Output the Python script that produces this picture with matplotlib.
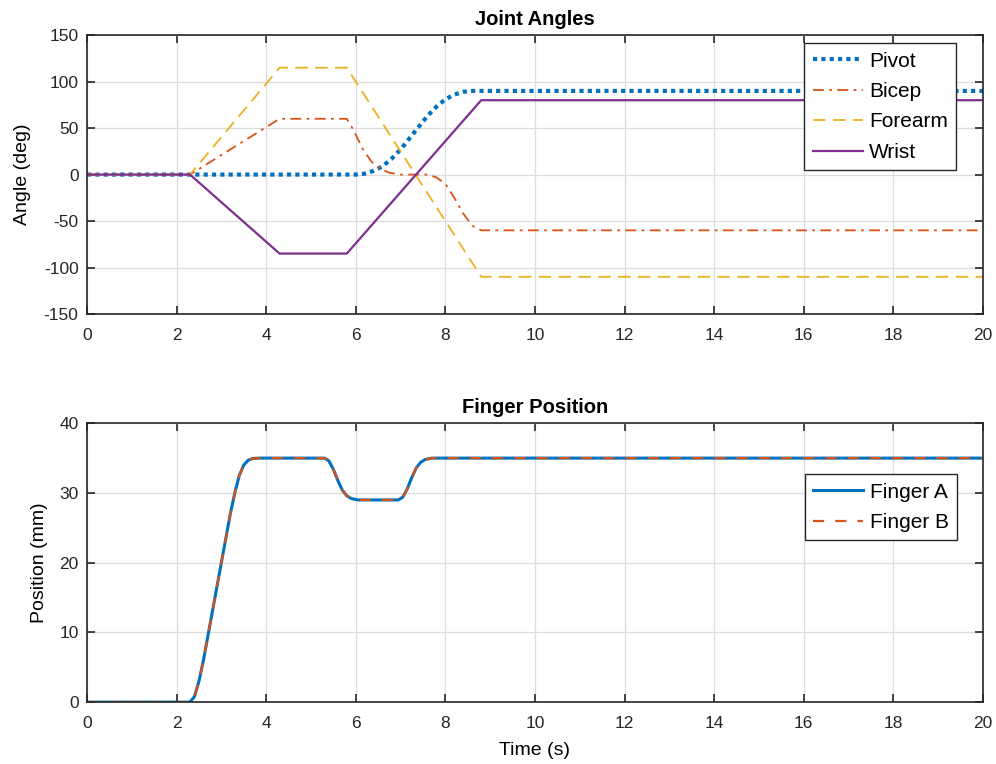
import matplotlib.pyplot as plt

# Joint angle traces (time in s, angle in deg)
t_pivot = [0, 6.0, 6.2, 6.4, 6.6, 6.8, 7.0, 7.2, 7.4, 7.6, 7.8, 8.0, 8.2, 8.4, 8.6, 20]
pivot = [0, 0, 1, 4, 9, 17, 27, 39, 51, 63, 73, 81, 86, 89, 90, 90]

t_bicep = [0, 2.3, 4.3, 5.8, 5.95, 6.15, 6.35, 6.55, 6.75, 7.0, 7.6, 7.8, 8.0, 8.2, 8.4, 8.6, 8.8, 20]
bicep = [0, 0, 60, 60, 48, 28, 14, 6, 2, 0, 0, -3, -10, -25, -42, -55, -60, -60]

t_forearm = [0, 2.3, 4.3, 5.8, 8.8, 20]
forearm = [0, 0, 115, 115, -110, -110]

t_wrist = [0, 2.3, 4.3, 5.8, 8.8, 20]
wrist = [0, 0, -85, -85, 80, 80]

# Finger positions (mm)
t_finger = [0, 2.3, 2.4, 2.5, 2.6, 2.7, 2.8, 2.9, 3.0, 3.1, 3.2, 3.3, 3.4, 3.5,
            3.6, 3.7, 3.85, 5.3, 5.4, 5.5, 5.6, 5.7, 5.8, 5.9, 6.05, 6.95, 7.05,
            7.15, 7.25, 7.35, 7.45, 7.55, 7.7, 20]
finger_a = [0, 0, 0.8, 3, 6, 9.5, 13, 16.5, 20, 23.5, 27, 30, 32.5, 34,
            34.7, 34.95, 35, 35, 34.6, 33.4, 31.8, 30.4, 29.6, 29.2, 29, 29, 29.4,
            30.6, 32.2, 33.6, 34.4, 34.8, 35, 35]
finger_b = list(finger_a)

blue = '#0072BD'
orange = '#D95319'
yellow = '#EDB120'
purple = '#7E2F8E'

plt.rcParams['font.family'] = ['Liberation Sans', 'DejaVu Sans']
plt.rcParams['axes.unicode_minus'] = False


def style_axes(ax):
    ax.grid(True, color='#dcdcdc', linewidth=0.9)
    ax.set_axisbelow(True)
    ax.tick_params(direction='in', length=6, width=1.2, top=True, right=True,
                   labelsize=12.5, colors='#262626', pad=6)
    ax.tick_params(axis='x', pad=10)
    for s in ax.spines.values():
        s.set_linewidth(1.2)
        s.set_color('#262626')


def add_legend(ax, anchor):
    leg = ax.legend(loc='upper right', bbox_to_anchor=anchor, fontsize=15,
                    handlelength=2.4, fancybox=False, framealpha=1, edgecolor='#262626',
                    borderpad=0.4, labelspacing=0.55, handletextpad=0.3,
                    borderaxespad=0)
    leg.get_frame().set_linewidth(1.0)
    return leg


fig = plt.figure(figsize=(9.96, 7.64), dpi=100)
ax1 = fig.add_axes([0.0873, 0.589, 0.8996, 0.365])
ax2 = fig.add_axes([0.0873, 0.081, 0.8996, 0.365])

ax1.plot(t_pivot, pivot, color=blue, lw=3, linestyle=(0, (1, 1)), dash_capstyle='butt', label='Pivot')
ax1.plot(t_bicep, bicep, color=orange, lw=1.3, linestyle=(0, (6, 3, 1.5, 3)), label='Bicep')
ax1.plot(t_forearm, forearm, color=yellow, lw=1.3, linestyle=(0, (7, 4)), label='Forearm')
ax1.plot(t_wrist, wrist, color=purple, lw=1.6, label='Wrist')
ax1.set_xlim(0, 20)
ax1.set_ylim(-150, 150)
ax1.set_xticks(range(0, 21, 2))
ax1.set_yticks(range(-150, 151, 50))
ax1.set_title('Joint Angles', fontsize=14.5, fontweight='bold', pad=7.5)
ax1.set_ylabel('Angle (deg)', fontsize=14)
ax1.yaxis.set_label_coords(-0.062, 0.5)
style_axes(ax1)
add_legend(ax1, (0.970, 0.971))

ax2.plot(t_finger, finger_a, color=blue, lw=2.2, label='Finger A')
ax2.plot(t_finger, finger_b, color=orange, lw=1.6, linestyle=(0, (5, 5)), label='Finger B')
ax2.set_xlim(0, 20)
ax2.set_ylim(0, 40)
ax2.set_xticks(range(0, 21, 2))
ax2.set_yticks(range(0, 41, 10))
ax2.set_title('Finger Position', fontsize=14.5, fontweight='bold', pad=7.5)
ax2.set_ylabel('Position (mm)', fontsize=14)
ax2.yaxis.set_label_coords(-0.043, 0.5)
ax2.set_xlabel('Time (s)', fontsize=14)
ax2.xaxis.set_label_coords(0.5, -0.143)
style_axes(ax2)
add_legend(ax2, (0.971, 0.817))

fig.savefig('out.png', dpi=100)
